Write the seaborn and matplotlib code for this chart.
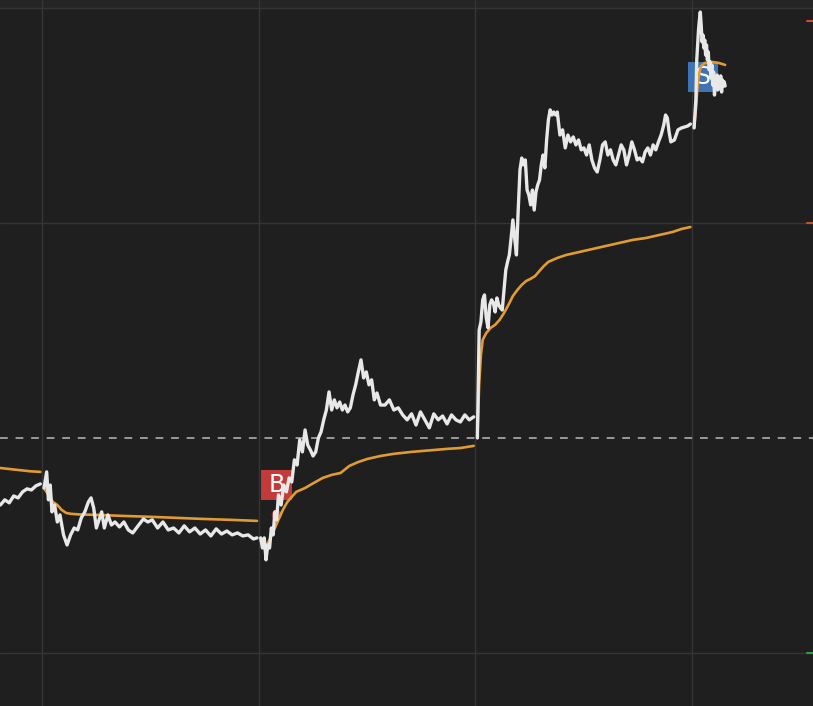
import numpy as np
import pandas as pd
import matplotlib
matplotlib.use("Agg")
import matplotlib.pyplot as plt
import matplotlib.transforms as mtransforms
import seaborn as sns

# ---------------- data (percent change vs. reference close) ----------------
# day 0 (partial, end of session)
d0_min = [195, 200, 205, 210, 215, 220, 225, 230, 235, 240]
d0_price = [-3.12, -2.88, -3.02, -2.70, -2.79, -2.51, -2.37, -2.42, -2.23, -2.14]
d0_avg_min = [195, 206, 217, 228, 240]
d0_avg = [-1.40, -1.45, -1.50, -1.55, -1.58]

# day 1
d1_min = [0, 3, 5, 7, 9, 12, 15, 18, 22, 26, 30, 34, 38, 42, 46, 50, 53, 56, 59, 62,
          65, 68, 72, 76, 80, 85, 90, 95, 100, 106, 112, 117, 122, 128, 134, 140, 146,
          152, 158, 164, 170, 176, 182, 188, 194, 200, 206, 212, 218, 224, 230, 236, 240]
d1_price = [-2.33, -1.58, -2.88, -2.19, -3.44, -3.12, -3.91, -3.58, -4.51, -4.98, -4.51,
            -4.19, -4.28, -3.72, -3.44, -2.98, -2.79, -3.26, -4.19, -3.81, -3.44, -4.19,
            -3.58, -4.05, -3.91, -4.14, -3.91, -4.28, -4.42, -4.09, -3.77, -3.91, -3.81,
            -4.19, -3.91, -4.28, -4.19, -4.42, -4.09, -4.37, -4.19, -4.47, -4.28, -4.56,
            -4.23, -4.47, -4.33, -4.51, -4.42, -4.56, -4.51, -4.70, -4.65]
d1_avg_min = [0, 5, 10, 15, 20, 25, 30, 40, 60, 90, 120, 150, 180, 210, 240]
d1_avg = [-2.33, -2.65, -2.98, -3.12, -3.35, -3.49, -3.53, -3.56, -3.58, -3.63, -3.67,
          -3.72, -3.77, -3.81, -3.86]

# day 2
d2_min = [0, 2, 4, 6, 8, 10, 12, 14, 16, 18, 20, 23, 26, 29, 32, 35, 38, 41, 44, 47,
          50, 53, 56, 59, 62, 65, 68, 71, 74, 77, 80, 83, 86, 89, 92, 95, 98, 101, 104,
          107, 110, 113, 116, 119, 122, 125, 128, 131, 135, 140, 145, 150, 155, 160,
          165, 170, 175, 180, 185, 190, 195, 200, 205, 210, 215, 220, 225, 230, 235, 240]
d2_price = [-4.65, -5.12, -4.65, -5.67, -4.98, -5.12, -4.19, -4.51, -3.44, -3.81, -2.65,
            -3.12, -2.19, -2.51, -1.86, -2.05, -1.02, -1.26, -0.09, -0.65, 0.37, -0.33,
            -0.56, -0.84, -0.65, 0.00, 0.28, 0.84, 1.30, 2.14, 1.30, 1.77, 1.40, 1.67,
            1.30, 1.53, 1.21, 1.40, 2.00, 2.47, 3.07, 3.63, 2.79, 3.07, 2.47, 2.70, 1.77,
            2.09, 1.53, 1.53, 1.77, 1.30, 1.40, 1.07, 0.84, 1.12, 0.60, 1.21, 0.84, 0.47,
            1.12, 0.84, 1.02, 0.65, 1.07, 0.84, 0.74, 1.07, 0.84, 0.98]
d2_avg_min = [0, 5, 10, 15, 20, 25, 30, 40, 50, 60, 70, 80, 90, 100, 110, 120, 135, 150,
              170, 190, 210, 225, 240]
d2_avg = [-4.74, -5.12, -4.74, -4.28, -3.81, -3.35, -2.98, -2.51, -2.33, -2.09, -1.86,
          -1.72, -1.63, -1.30, -1.12, -0.98, -0.84, -0.74, -0.65, -0.58, -0.51, -0.47,
          -0.37]

# day 3
d3_min = [0, 2, 4, 6, 8, 10, 12, 14, 16, 18, 20, 22, 24, 26, 28, 30, 32, 34, 36, 38, 40,
          42, 44, 46, 48, 50, 52, 54, 56, 58, 60, 62, 64, 66, 68, 70, 72, 74, 76, 78, 80,
          82, 84, 86, 88, 90, 93, 96, 99, 102, 105, 108, 111, 114, 117, 120, 123, 126,
          129, 132, 135, 138, 141, 144, 147, 150, 153, 156, 159, 162, 165, 168, 171, 174,
          177, 180, 183, 186, 189, 192, 195, 198, 201, 204, 207, 210, 212, 214, 216, 218,
          222, 226, 230, 234, 237, 240]
d3_price = [0.00, 5.02, 5.40, 6.42, 6.65, 5.58, 5.12, 6.19, 6.42, 6.28, 5.86, 6.51, 6.19,
            6.05, 5.95, 6.88, 7.81, 8.19, 8.51, 9.30, 10.14, 9.30, 8.51, 10.60, 12.47,
            13.02, 12.70, 12.93, 11.53, 11.30, 10.84, 11.53, 10.60, 11.44, 11.77, 12.00,
            12.70, 13.16, 12.56, 13.86, 14.79, 15.26, 15.02, 15.16, 15.02, 15.16, 14.09,
            14.33, 13.49, 14.09, 13.77, 14.00, 13.63, 13.86, 13.40, 13.49, 13.16, 13.63,
            12.93, 12.56, 12.37, 12.93, 13.63, 13.77, 13.16, 13.40, 12.93, 12.70, 13.16,
            13.63, 13.40, 12.70, 13.16, 13.77, 13.40, 12.93, 13.02, 12.84, 13.30, 13.49,
            13.16, 13.63, 13.40, 13.77, 14.09, 14.56, 15.02, 14.88, 14.23, 13.77, 13.86,
            14.33, 14.42, 14.47, 14.51, 14.60]
d3_avg_min = [0, 2, 4, 6, 10, 15, 20, 25, 30, 35, 40, 45, 50, 55, 60, 65, 70, 75, 80, 90,
              100, 115, 130, 145, 160, 175, 190, 205, 220, 230, 240]
d3_avg = [0.00, 2.47, 3.86, 4.56, 4.88, 5.12, 5.26, 5.49, 5.81, 6.19, 6.60, 6.88, 7.12,
          7.30, 7.40, 7.53, 7.77, 8.00, 8.19, 8.37, 8.51, 8.65, 8.79, 8.93, 9.07, 9.21,
          9.30, 9.44, 9.58, 9.72, 9.81]

# day 4 (partial, opening minutes)
d4_min = list(range(0, 36))
d4_min.remove(1)
d4_price = [14.42, 15.72, 17.58, 18.28, 18.98, 19.44, 19.81, 19.21, 18.42, 18.74, 18.14,
            18.51, 17.81, 18.28, 17.58, 17.95, 17.12, 17.49, 16.74, 17.35, 16.42, 17.02,
            15.95, 16.74, 16.42, 16.88, 16.19, 16.65, 16.28, 16.84, 16.09, 16.65, 16.37,
            16.56, 16.37]
d4_avg_min = [0, 2, 4, 6, 8, 12, 20, 28, 35]
d4_avg = [14.42, 15.26, 16.42, 17.02, 17.30, 17.44, 17.49, 17.44, 17.35]

days = [
    (0, d0_min, d0_price, d0_avg_min, d0_avg),
    (1, d1_min, d1_price, d1_avg_min, d1_avg),
    (2, d2_min, d2_price, d2_avg_min, d2_avg),
    (3, d3_min, d3_price, d3_avg_min, d3_avg),
    (4, d4_min, d4_price, d4_avg_min, d4_avg),
]

# trade signals: (label, day, minute, pct of marker dot, pct of box)
signals = [("B", 2, 18, -3.58, -2.19), ("S", 4, 10, None, 16.80)]

y_grid = [20, 10, -10]
ref_level = 0.0

# ---------------- layout helpers ----------------
DAY_PAD = 0.0092
MIN_SCALE = 0.004096


def to_x(day, minute):
    return (day - 1) + DAY_PAD + np.asarray(minute, dtype=float) * MIN_SCALE


rows = []
for day, pm, pp, am, ap in days:
    for x, v in zip(to_x(day, pm), pp):
        rows.append({"x": x, "pct": v, "series": "price", "day": day})
    for x, v in zip(to_x(day, am), ap):
        rows.append({"x": x, "pct": v, "series": "avg", "day": day})
df = pd.DataFrame(rows)

# ---------------- plotting ----------------
BG = "#1f1f1f"
sns.set_theme(style="dark", rc={"axes.facecolor": BG, "figure.facecolor": BG})

fig = plt.figure(figsize=(8.13, 7.06), dpi=100)
ax = fig.add_axes([0, 0, 1, 1])
ax.set_facecolor(BG)

xlim = (-0.1938, 3.558)
ylim = (-12.47, 20.37)
ax.set_xlim(*xlim)
ax.set_ylim(*ylim)

# top header strip
ax.axhspan(20.0, ylim[1], color="#252525", zorder=0)

for gx in [0, 1, 2, 3]:
    ax.axvline(gx, color="#353535", lw=1.0, zorder=1)
for gy in y_grid:
    ax.axhline(gy, color="#353535", lw=1.0, zorder=1)
ax.axhline(ref_level, color="#9a9a9a", lw=1.4, ls=(0, (4, 4)), zorder=1)

# signal boxes (drawn beneath the lines, as in the reference)
for label, day, minute, dot_y, box_y in signals:
    xx = float(to_x(day, minute))
    color = "#c23b3b" if label == "B" else "#3f73b5"
    ax.scatter([xx], [box_y], s=480, marker="s", color=color, zorder=2, edgecolor="none")
    if dot_y is not None:
        ax.scatter([xx], [dot_y], s=50, color=color, alpha=0.9, zorder=2, edgecolor="none")
    ax.text(xx, box_y, label, color="white", fontsize=17, ha="center", va="center",
            zorder=2.5)

sns.lineplot(data=df[df.series == "avg"], x="x", y="pct", units="day", estimator=None,
             sort=False, color="#e29b32", lw=1.9, ax=ax, zorder=3)
sns.lineplot(data=df[df.series == "price"], x="x", y="pct", units="day", estimator=None,
             sort=False, color="#e8e8e8", lw=2.4, ax=ax, zorder=4)

# small right-edge price tick marks
trans = mtransforms.blended_transform_factory(ax.transAxes, ax.transData)
for yy, c in [(19.4, "#c8502a"), (10.0, "#c8502a"), (-10.0, "#2e9e3e")]:
    ax.plot([0.993, 1.0], [yy, yy], color=c, lw=1.5, transform=trans, zorder=5)

ax.set_xlabel("")
ax.set_ylabel("")
ax.set_xticks([])
ax.set_yticks([])
for s in ax.spines.values():
    s.set_visible(False)

fig.savefig("out.png", dpi=100, facecolor=BG)
